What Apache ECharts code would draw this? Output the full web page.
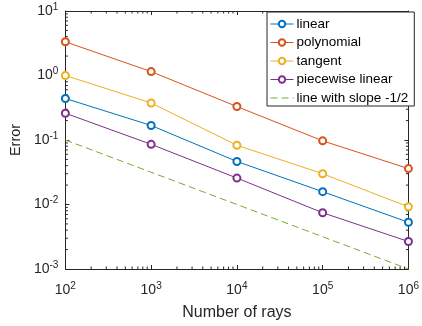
<!DOCTYPE html>
<html>
<head>
<meta charset="utf-8">
<script src="https://cdn.jsdelivr.net/npm/echarts@6/dist/echarts.min.js"></script>
<style>
  html, body { margin: 0; padding: 0; background: #fff; }
  #chart { width: 422px; height: 326px; }
</style>
</head>
<body>
<div id="chart"></div>
<script>
// values
const rays = [1e2, 1e3, 1e4, 1e5, 1e6]
const linearErr = [0.44, 0.168, 0.0465, 0.0158, 0.0053]
const polynomialErr = [3.33, 1.15, 0.33, 0.097, 0.036]
const tangentErr = [1.0, 0.375, 0.083, 0.030, 0.0092]
const piecewiseErr = [0.26, 0.0857, 0.0257, 0.00745, 0.00267]
const slopeX = [1e2, 1e6]
const slopeRef = [0.1, 0.001]

const xMin = 1e2, xMax = 1e6
const yMin = 1e-3, yMax = 1e1

// minor tick positions (2..9 inside each decade)
const minorsFor = (lo, hi) => {
  const out = []
  for (let d = lo; d < hi; d *= 10) {
    for (let k = 2; k <= 9; k++) out.push(d * k)
  }
  return out
}
const xMinor = minorsFor(xMin, xMax)
const yMinor = minorsFor(yMin, yMax)

const axisColor = '#262626'
const font = 'Liberation Sans, Arial, Helvetica, sans-serif'

const powLabel = (v) => '{b|10}{s|' + Math.round(Math.log10(v)) + '}'
const richLabel = {
  b: { fontSize: 14, fontFamily: font, color: axisColor },
  s: { fontSize: 10, fontFamily: font, color: axisColor, verticalAlign: 'bottom', padding: [0, 0, 8, 0] },
}

const chart = echarts.init(document.getElementById('chart'))

const zip = (xs, ys) => xs.map((x, i) => [x, ys[i]])

const lineSeries = (name, color, ys) => ({
  name,
  type: 'line',
  data: zip(rays, ys),
  symbol: 'emptyCircle',
  symbolSize: 7,
  showAllSymbol: true,
  lineStyle: { color, width: 1 },
  itemStyle: { color, borderWidth: 1 },
  emphasis: { disabled: true },
  z: 3,
})

// minor ticks on all four edges, placed through the axes' own scales
const minorTick = 2.5
const tickStyle = { stroke: axisColor, lineWidth: 1 }
const xMinorSeries = {
  type: 'custom',
  silent: true,
  z: 1,
  data: xMinor.map((v) => [v, yMin]),
  renderItem: (params, api) => {
    const v = api.value(0)
    const b = api.coord([v, yMin])
    const t = api.coord([v, yMax])
    return {
      type: 'group',
      children: [
        { type: 'line', shape: { x1: b[0], y1: b[1], x2: b[0], y2: b[1] - minorTick }, style: tickStyle },
        { type: 'line', shape: { x1: t[0], y1: t[1], x2: t[0], y2: t[1] + minorTick }, style: tickStyle },
      ],
    }
  },
}
const yMinorSeries = {
  type: 'custom',
  silent: true,
  z: 1,
  data: yMinor.map((v) => [xMin, v]),
  renderItem: (params, api) => {
    const v = api.value(1)
    const l = api.coord([xMin, v])
    const r = api.coord([xMax, v])
    return {
      type: 'group',
      children: [
        { type: 'line', shape: { x1: l[0], y1: l[1], x2: l[0] + minorTick, y2: l[1] }, style: tickStyle },
        { type: 'line', shape: { x1: r[0], y1: r[1], x2: r[0] - minorTick, y2: r[1] }, style: tickStyle },
      ],
    }
  },
}

const baseAxis = {
  type: 'log',
  logBase: 10,
  axisLine: { show: true, onZero: false, lineStyle: { color: axisColor, width: 1 } },
  axisTick: { show: true, inside: true, length: 4, lineStyle: { color: axisColor } },
  splitLine: { show: false },
  minorTick: { show: false },
}

chart.setOption({
  animation: false,
  backgroundColor: '#fff',
  grid: { left: 64, right: 9, top: 11, bottom: 55 },
  legend: {
    orient: 'vertical',
    left: 267,
    top: 12,
    z: 10,
    padding: [5, 6, 1, 3],
    itemGap: 4.5,
    itemWidth: 23,
    itemHeight: 8,
    backgroundColor: '#fff',
    borderColor: axisColor,
    borderWidth: 1,
    borderRadius: 0,
    lineStyle: { width: 1 },
    textStyle: { fontSize: 13.5, fontFamily: font, color: '#000', padding: [0, 0, 0, -2] },
    data: [
      'linear',
      'polynomial',
      'tangent',
      'piecewise linear',
      { name: 'line with slope -1/2', itemStyle: { opacity: 0 } },
    ],
  },
  xAxis: [
    {
      ...baseAxis,
      min: xMin,
      max: xMax,
      position: 'bottom',
      name: 'Number of rays',
      nameLocation: 'middle',
      nameGap: 36,
      nameTextStyle: { fontSize: 16, fontFamily: font, color: axisColor },
      axisLabel: { margin: 12, formatter: powLabel, rich: richLabel },
    },
    { ...baseAxis, min: xMin, max: xMax, position: 'top', axisLabel: { show: false } },
  ],
  yAxis: [
    {
      ...baseAxis,
      min: yMin,
      max: yMax,
      position: 'left',
      name: 'Error',
      nameLocation: 'middle',
      nameGap: 36,
      nameTextStyle: { fontSize: 14.5, fontFamily: font, color: axisColor },
      axisLabel: { margin: 7, formatter: powLabel, rich: richLabel },
    },
    { ...baseAxis, min: yMin, max: yMax, position: 'right', axisLabel: { show: false } },
  ],
  series: [
    lineSeries('linear', '#0072BD', linearErr),
    lineSeries('polynomial', '#D95319', polynomialErr),
    lineSeries('tangent', '#EDB120', tangentErr),
    lineSeries('piecewise linear', '#7E2F8E', piecewiseErr),
    {
      name: 'line with slope -1/2',
      type: 'line',
      data: zip(slopeX, slopeRef),
      symbol: 'none',
      lineStyle: { color: '#77AC30', width: 1, type: [7, 4] },
      itemStyle: { color: '#77AC30' },
      emphasis: { disabled: true },
      z: 2,
    },
    xMinorSeries,
    yMinorSeries,
  ],
})
</script>
</body>
</html>
